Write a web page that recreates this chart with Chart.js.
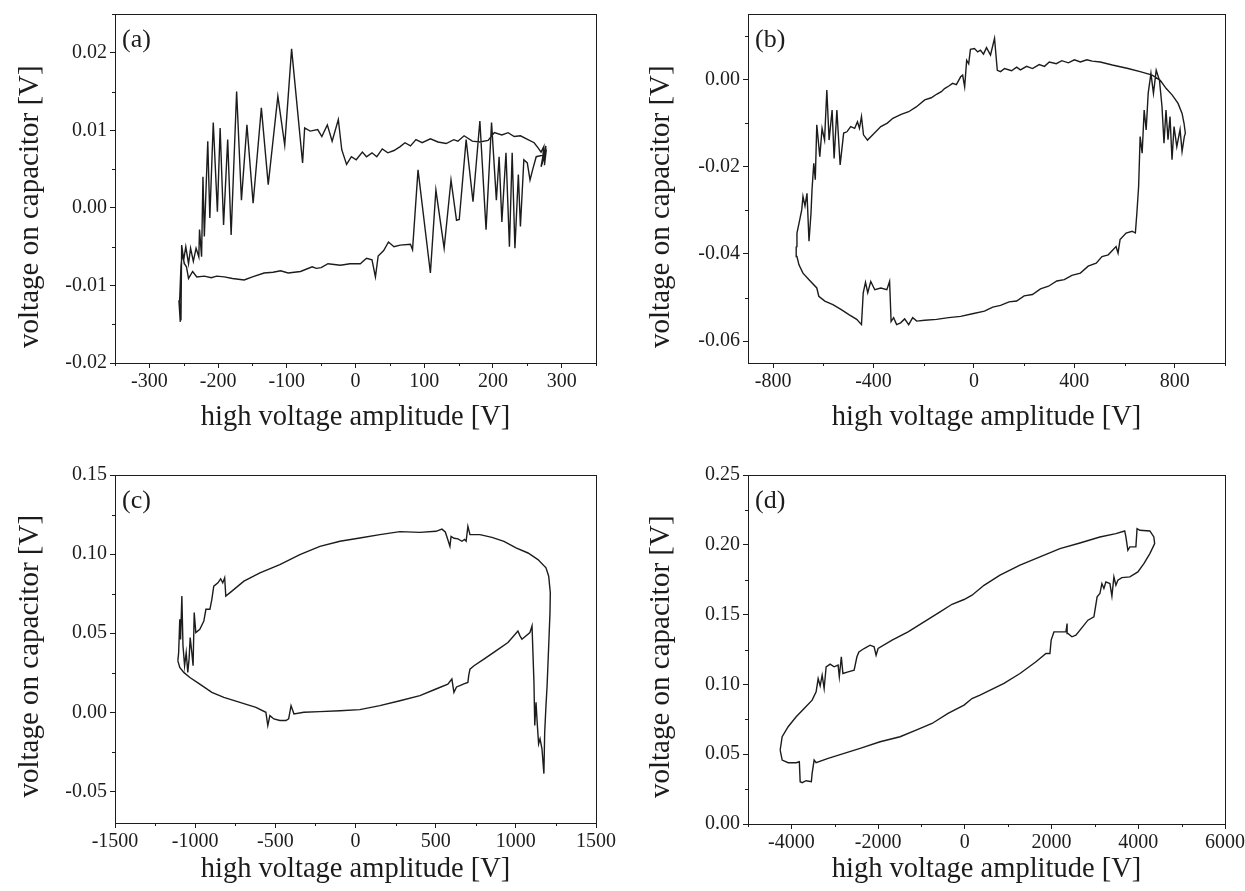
<!DOCTYPE html>
<html>
<head>
<meta charset="utf-8">
<script src="https://cdn.jsdelivr.net/npm/chart.js@4.4.1/dist/chart.umd.min.js"></script>
<style>
  html, body { margin: 0; padding: 0; background: #fff; }
  #wrap { position: relative; width: 1245px; height: 891px; overflow: hidden; }
  canvas { position: absolute; }
</style>
</head>
<body>
<div id="wrap">
  <canvas id="ca" width="620" height="445" style="left:0;top:0"></canvas>
  <canvas id="cb" width="623" height="445" style="left:622px;top:0"></canvas>
  <canvas id="cc" width="620" height="446" style="left:0;top:445px"></canvas>
  <canvas id="cd" width="623" height="446" style="left:622px;top:445px"></canvas>
</div>
<script>
// ---------------- Panel (a) ----------------
const aHV = [-256,-255,-257,-254,-253,-250,-247,-243,-240,-236,-232,-228,-227,-224,-222,-220,-215,-212,-207,-201,-197,-192,-186,-181,-173,-166,-158,-149,-137,-127,-113,-103,-93,-77,-74,-66,-55,-49,-41,-34,-25,-20,-13,-6,1,10,16,24,31,39,47,56,65,72,80,88,97,109,120,132,143,149,158,170,181,193,202,213,222,231,240,251,260,266,270,274,272,277,275,277,270,273,
  263,258,254,250,245,240,237,232,228,224,219,213,209,205,198,190,181,171,161,151,147,139,129,117,109,91,83,80,65,56,48,41,33,29,24,16,7,-8,-22,-40,-50,-57,-63,-80,-98,-109,-120,-133,-150,-162,-179,-191,-202,-210,-220,-231,-237,-243,-246,-249,-252,-254,-256];
const aCap = [-0.0121,-0.0147,-0.0119,-0.0145,-0.0048,-0.0067,-0.0050,-0.0072,-0.0052,-0.0069,-0.0052,-0.0063,-0.0028,-0.0063,0.0040,-0.0037,0.0086,-0.0013,0.0110,-0.0005,0.0103,-0.0022,0.0088,-0.0035,0.0150,0.0010,0.0107,0.0006,0.0129,0.0030,0.0144,0.0081,0.0205,0.0058,0.0103,0.0099,0.0101,0.0092,0.0107,0.0086,0.0114,0.0075,0.0056,0.0066,0.0062,0.0072,0.0066,0.0071,0.0066,0.0076,0.0071,0.0074,0.0079,0.0084,0.0080,0.0088,0.0084,0.0089,0.0085,0.0083,0.0088,0.0086,0.0093,0.0086,0.0085,0.0087,0.0097,0.0094,0.0097,0.0092,0.0093,0.0088,0.0084,0.0077,0.0072,0.0079,0.0060,0.0080,0.0055,0.0070,0.0053,0.0068,
  0.0066,0.0050,0.0036,0.0058,0.0062,-0.0024,0.0043,-0.0052,0.0071,-0.0050,0.0071,-0.0018,0.0066,0.0010,0.0110,-0.0028,0.0112,0.0008,0.0088,-0.0015,-0.0016,0.0036,-0.0052,0.0023,-0.0084,0.0049,-0.0054,-0.0047,-0.0048,-0.0050,-0.0044,-0.0055,-0.0062,-0.0089,-0.0067,-0.0065,-0.0072,-0.0072,-0.0074,-0.0072,-0.0077,-0.0078,-0.0076,-0.0082,-0.0084,-0.0081,-0.0083,-0.0084,-0.0089,-0.0093,-0.0091,-0.0089,-0.0088,-0.0090,-0.0088,-0.0089,-0.0082,-0.0091,-0.0076,-0.0072,-0.0059,-0.0075,-0.0121];
const aXTicks = [-300,-200,-100,0,100,200,300];
const aXLabels = ['-300','-200','-100','0','100','200','300'];
const aXMinor = [-350,-250,-150,-50,50,150,250,350];
const aYTicks = [-0.02,-0.01,0,0.01,0.02];
const aYLabels = ['-0.02','-0.01','0.00','0.01','0.02'];
const aYMinor = [-0.015,-0.005,0.005,0.015,0.025];

// ---------------- Panel (b) ----------------
const bHV = [-708,-705,-694,-686,-681,-673,-665,-657,-649,-645,-638,-632,-626,-614,-605,-595,-586,-577,-565,-557,-546,-533,-519,-506,-491,-475,-464,-456,-448,-440,-424,-403,-371,-345,-323,-290,-260,-230,-196,-170,-149,-130,-117,-100,-85,-70,-53,-45,-37,-29,-21,-14,2,15,26,38,50,66,82,93,106,122,150,170,185,210,233,260,281,300,328,350,376,400,424,450,471,503,551,614,662,710,742,766,790,813,829,837,842,
  838,829,821,808,797,789,781,773,765,757,749,739,726,715,705,694,686,678,670,662,656,649,643,630,606,582,574,566,535,510,487,455,424,390,360,330,297,265,233,200,170,140,106,75,42,-6,-53,-101,-149,-196,-228,-244,-260,-276,-292,-308,-320,-330,-336,-347,-371,-395,-411,-423,-432,-441,-448,-467,-498,-530,-562,-594,-618,-626,-657,-681,-697,-705,-708];
const bCap = [-0.0383,-0.0352,-0.0322,-0.0299,-0.0268,-0.0290,-0.0261,-0.0371,-0.0306,-0.0253,-0.0192,-0.0230,-0.0104,-0.0177,-0.0112,-0.0139,-0.0024,-0.0139,-0.0070,-0.0181,-0.0070,-0.0196,-0.0123,-0.0120,-0.0108,-0.0112,-0.0097,-0.0112,-0.0085,-0.0127,-0.0139,-0.0127,-0.0108,-0.0100,-0.0089,-0.0080,-0.0074,-0.0063,-0.0047,-0.0042,-0.0034,-0.0028,-0.0021,-0.0015,-0.0009,-0.0012,0.0006,0.0010,-0.0017,0.0044,0.0036,0.0069,0.0071,0.0063,0.0067,0.0058,0.0073,0.0056,0.0094,0.0021,0.0018,0.0025,0.0020,0.0028,0.0022,0.0030,0.0025,0.0034,0.0030,0.0040,0.0036,0.0043,0.0038,0.0045,0.0040,0.0045,0.0042,0.0040,0.0033,0.0025,0.0018,0.0010,-0.0002,-0.0021,-0.0036,-0.0055,-0.0078,-0.0101,-0.0123,
  -0.0131,-0.0165,-0.0115,-0.0154,-0.0108,-0.0184,-0.0085,-0.0138,-0.0070,-0.0146,-0.0062,-0.0002,0.0021,-0.0032,0.0014,-0.0032,-0.0116,-0.0070,-0.0169,-0.0131,-0.0245,-0.0306,-0.0352,-0.0348,-0.0352,-0.0367,-0.0398,-0.0383,-0.0402,-0.0406,-0.0421,-0.0428,-0.0444,-0.0449,-0.0459,-0.0462,-0.0474,-0.0480,-0.0493,-0.0496,-0.0508,-0.0510,-0.0518,-0.0522,-0.0531,-0.0537,-0.0543,-0.0546,-0.0550,-0.0552,-0.0554,-0.0546,-0.0562,-0.0549,-0.0558,-0.0562,-0.0546,-0.0555,-0.0463,-0.0482,-0.0478,-0.0482,-0.0463,-0.0489,-0.0465,-0.0489,-0.0562,-0.0550,-0.0539,-0.0527,-0.0516,-0.0508,-0.0497,-0.0478,-0.0459,-0.0444,-0.0425,-0.0406,-0.0383];
const bXTicks = [-800,-400,0,400,800];
const bXLabels = ['-800','-400','0','400','800'];
const bXMinor = [-600,-200,200,600,1000];
const bYTicks = [-0.06,-0.04,-0.02,0];
const bYLabels = ['-0.06','-0.04','-0.02','0.00'];
const bYMinor = [-0.05,-0.03,-0.01,0.01];

// ---------------- Panel (c) ----------------
const cHV = [-1108,-1103,-1096,-1091,-1083,-1076,-1066,-1056,-1046,-1038,-1031,-1021,-1013,-1006,-996,-971,-946,-933,-908,-896,-884,-858,-841,-828,-816,-809,-771,-696,-596,-472,-347,-222,-97,27,152,277,402,502,539,560,576,589,596,615,639,664,680,690,701,714,776,851,926,1001,1076,1138,1188,1205,1215,1213,1205,1195,1188,1180,1175,
  1163,1151,1142,1133,1126,1118,1113,1101,1088,1038,1026,1013,951,876,801,739,714,706,701,676,651,630,614,601,576,502,402,277,152,27,-97,-222,-322,-384,-402,-417,-434,-472,-509,-534,-547,-559,-621,-721,-821,-896,-971,-1033,-1071,-1096,-1108];
const cCap = [0.0325,0.0378,0.0588,0.0460,0.0735,0.0420,0.0294,0.0378,0.0252,0.0336,0.0472,0.0378,0.0294,0.0630,0.0504,0.0525,0.0577,0.0651,0.0651,0.0714,0.0797,0.0818,0.0844,0.0818,0.0850,0.0735,0.0766,0.0829,0.0881,0.0934,0.0997,0.1049,0.1081,0.1102,0.1123,0.1142,0.1137,0.1144,0.1158,0.1140,0.1091,0.1049,0.1112,0.1100,0.1096,0.1081,0.1092,0.1081,0.1175,0.1123,0.1123,0.1106,0.1081,0.1039,0.1007,0.0965,0.0913,0.0860,0.0756,0.0630,0.0420,0.0168,0.0042,-0.0126,-0.0388,
  -0.0231,-0.0168,-0.0200,-0.0063,0.0063,-0.0084,0.0189,0.0546,0.0504,0.0462,0.0483,0.0514,0.0441,0.0388,0.0336,0.0294,0.0273,0.0231,0.0189,0.0180,0.0168,0.0160,0.0126,0.0210,0.0178,0.0147,0.0105,0.0073,0.0042,0.0017,0.0010,0.0004,0.0000,-0.0010,0.0042,-0.0042,-0.0052,-0.0052,-0.0042,-0.0021,-0.0084,0.0000,0.0031,0.0063,0.0094,0.0126,0.0178,0.0220,0.0252,0.0283,0.0325];
const cXTicks = [-1500,-1000,-500,0,500,1000,1500];
const cXLabels = ['-1500','-1000','-500','0','500','1000','1500'];
const cXMinor = [-1250,-750,-250,250,750,1250];
const cYTicks = [-0.05,0,0.05,0.10,0.15];
const cYLabels = ['-0.05','0.00','0.05','0.10','0.15'];
const cYMinor = [-0.025,0.025,0.075,0.125];

// ---------------- Panel (d) ----------------
const dHV = [-4258,-4212,-4074,-3889,-3705,-3521,-3429,-3382,-3336,-3290,-3244,-3198,-3106,-3014,-2922,-2894,-2848,-2811,-2691,-2553,-2488,-2442,-2323,-2184,-2092,-2046,-2000,-1677,-1309,-940,-571,-295,-18,166,442,811,1272,1733,2194,2654,3115,3484,3687,3715,3760,3806,3945,3972,4037,4267,4359,4378,
  4267,4129,3991,3806,3622,3530,3484,3438,3392,3346,3253,3207,3161,3115,3051,2977,2839,2562,2470,2378,2359,2332,2055,1991,1963,1871,1641,1272,903,350,166,-18,-387,-756,-1124,-1493,-1954,-2415,-2783,-3152,-3429,-3475,-3521,-3539,-3659,-3751,-3797,-3816,-3889,-4074,-4212,-4258];
const dCap = [0.0530,0.0625,0.0697,0.0768,0.0828,0.0887,0.0947,0.1042,0.0990,0.1066,0.0971,0.1126,0.1145,0.1126,0.1138,0.1054,0.1198,0.1078,0.1090,0.1102,0.1198,0.1233,0.1257,0.1281,0.1269,0.1209,0.1257,0.1317,0.1376,0.1448,0.1520,0.1574,0.1608,0.1639,0.1710,0.1782,0.1854,0.1913,0.1973,0.2013,0.2056,0.2080,0.2099,0.2056,0.1961,0.1985,0.1985,0.2116,0.2104,0.2099,0.2056,0.2009,
  0.1937,0.1865,0.1806,0.1770,0.1765,0.1746,0.1710,0.1770,0.1632,0.1722,0.1734,0.1687,0.1722,0.1651,0.1627,0.1484,0.1460,0.1353,0.1341,0.1365,0.1436,0.1376,0.1376,0.1317,0.1221,0.1221,0.1162,0.1078,0.1007,0.0923,0.0899,0.0852,0.0792,0.0720,0.0673,0.0625,0.0589,0.0542,0.0506,0.0470,0.0439,0.0458,0.0363,0.0303,0.0310,0.0296,0.0303,0.0446,0.0439,0.0439,0.0458,0.0530];
const dXTicks = [-4000,-2000,0,2000,4000,6000];
const dXLabels = ['-4000','-2000','0','2000','4000','6000'];
const dXMinor = [-5000,-3000,-1000,1000,3000,5000];
const dYTicks = [0,0.05,0.10,0.15,0.20,0.25];
const dYLabels = ['0.00','0.05','0.10','0.15','0.20','0.25'];
const dYMinor = [0.025,0.075,0.125,0.175,0.225];

const panelLetters = ['(a)','(b)','(c)','(d)'];
const xTitle = 'high voltage amplitude [V]';
const yTitle = 'voltage on capacitor [V]';

// --------------------------------------------
const FONT = "'Liberation Serif', 'Times New Roman', serif";
const INK = '#1c1c1c';

const framePlugin = {
  id: 'frameAndMinor',
  afterDraw(chart, args, opts) {
    const {ctx, chartArea: ca, scales} = chart;
    ctx.save();
    ctx.strokeStyle = INK;
    ctx.lineWidth = 1;
    ctx.strokeRect(Math.round(ca.left) + 0.5, Math.round(ca.top) + 0.5,
                   Math.round(ca.right - ca.left), Math.round(ca.bottom - ca.top));
    ctx.beginPath();
    (opts.xMinor || []).forEach(v => {
      const px = Math.round(scales.x.getPixelForValue(v)) + 0.5;
      ctx.moveTo(px, ca.bottom); ctx.lineTo(px, ca.bottom + 3);
    });
    (opts.yMinor || []).forEach(v => {
      const py = Math.round(scales.y.getPixelForValue(v)) + 0.5;
      ctx.moveTo(ca.left, py); ctx.lineTo(ca.left - 3, py);
    });
    ctx.stroke();
    ctx.fillStyle = INK;
    ctx.font = "26px " + FONT;
    ctx.textBaseline = 'top';
    ctx.textAlign = 'left';
    ctx.fillText(opts.letter, ca.left + 7, ca.top + 13);
    ctx.restore();
  }
};

function makePanel(id, hv, cap, cfg) {
  const pts = hv.map((x, i) => ({x: x, y: cap[i]}));
  const canvas = document.getElementById(id);
  const W = canvas.width, H = canvas.height;
  return new Chart(canvas, {
    type: 'scatter',
    data: { datasets: [{
      data: pts, showLine: true, borderColor: INK, borderWidth: 1.4,
      pointRadius: 0, tension: 0, fill: false
    }]},
    plugins: [framePlugin],
    options: {
      responsive: false, animation: false, devicePixelRatio: 1,
      layout: { padding: { top: cfg.top, right: W - cfg.right, left: 0, bottom: 0 } },
      plugins: {
        legend: { display: false }, tooltip: { enabled: false },
        frameAndMinor: { xMinor: cfg.xMinor, yMinor: cfg.yMinor, letter: cfg.letter }
      },
      scales: {
        x: {
          type: 'linear', min: cfg.xmin, max: cfg.xmax,
          afterFit: s => { s.height = H - cfg.bottom; s.paddingLeft = 0; s.paddingRight = 0; },
          afterBuildTicks: s => { s.ticks = cfg.xTicks.map(v => ({value: v})); },
          grid: { drawOnChartArea: false, drawTicks: true, tickLength: 5, color: INK, lineWidth: 1 },
          border: { display: true, color: INK, width: 1 },
          ticks: { color: INK, font: { family: FONT, size: 20 }, padding: 2, maxRotation: 0,
                   autoSkip: false, callback: (v, i) => cfg.xLabels[i] },
          title: { display: true, text: xTitle, color: INK, font: { family: FONT, size: 28.5 },
                   padding: { top: 0, bottom: cfg.xTitlePad } }
        },
        y: {
          type: 'linear', min: cfg.ymin, max: cfg.ymax,
          afterFit: s => { s.width = cfg.left; s.paddingTop = 0; s.paddingBottom = 0; },
          afterBuildTicks: s => { s.ticks = cfg.yTicks.map(v => ({value: v})); },
          grid: { drawOnChartArea: false, drawTicks: true, tickLength: 5, color: INK, lineWidth: 1 },
          border: { display: true, color: INK, width: 1 },
          ticks: { color: INK, font: { family: FONT, size: 20 }, padding: 3,
                   autoSkip: false, callback: (v, i) => cfg.yLabels[i] },
          title: { display: true, text: yTitle + cfg.yTitleTail, color: INK, font: { family: FONT, size: 29 },
                   padding: { top: cfg.yTitlePad, bottom: 0 } }
        }
      }
    }
  });
}

makePanel('ca', aHV, aCap, {
  left: 115, right: 596, top: 14, bottom: 363, xmin: -350, xmax: 350, ymin: -0.02, ymax: 0.025,
  xTicks: aXTicks, xLabels: aXLabels, xMinor: aXMinor, yTicks: aYTicks, yLabels: aYLabels, yMinor: aYMinor,
  letter: panelLetters[0], xTitlePad: 10, yTitlePad: 13, yTitleTail: '     '
});
makePanel('cb', bHV, bCap, {
  left: 126, right: 603, top: 14, bottom: 363, xmin: -900, xmax: 1000, ymin: -0.065, ymax: 0.015,
  xTicks: bXTicks, xLabels: bXLabels, xMinor: bXMinor, yTicks: bYTicks, yLabels: bYLabels, yMinor: bYMinor,
  letter: panelLetters[1], xTitlePad: 10, yTitlePad: 22, yTitleTail: '     '
});
makePanel('cc', cHV, cCap, {
  left: 115, right: 596, top: 30, bottom: 378, xmin: -1500, xmax: 1500, ymin: -0.07, ymax: 0.15,
  xTicks: cXTicks, xLabels: cXLabels, xMinor: cXMinor, yTicks: cYTicks, yLabels: cYLabels, yMinor: cYMinor,
  letter: panelLetters[2], xTitlePad: 4, yTitlePad: 13, yTitleTail: '  '
});
makePanel('cd', dHV, dCap, {
  left: 126, right: 603, top: 30, bottom: 379, xmin: -5000, xmax: 6000, ymin: 0, ymax: 0.25,
  xTicks: dXTicks, xLabels: dXLabels, xMinor: dXMinor, yTicks: dYTicks, yLabels: dYLabels, yMinor: dYMinor,
  letter: panelLetters[3], xTitlePad: 4, yTitlePad: 22, yTitleTail: '  '
});
</script>
</body>
</html>
